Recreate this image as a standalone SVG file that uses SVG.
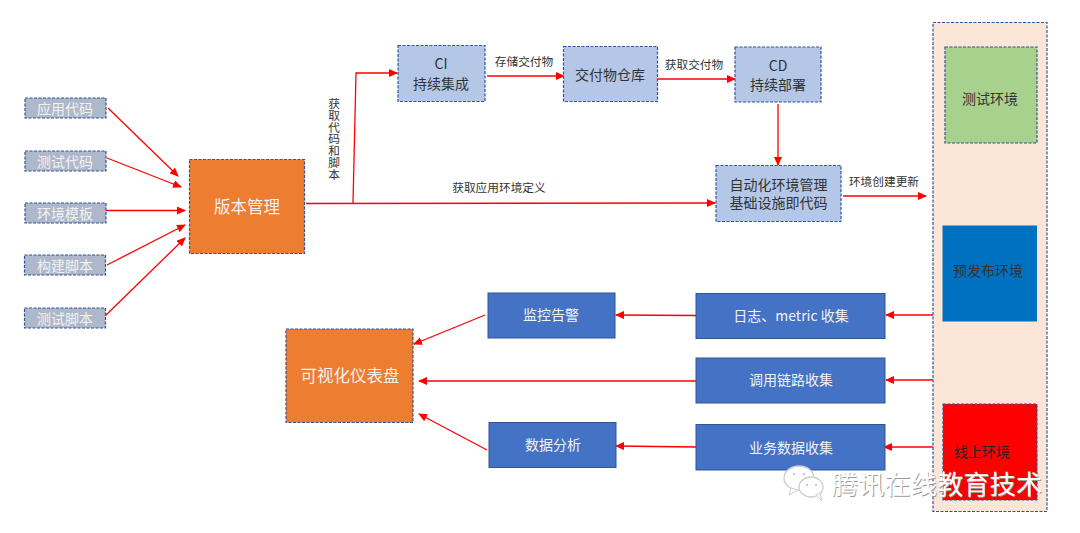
<svg xmlns="http://www.w3.org/2000/svg" width="1080" height="533" viewBox="0 0 1080 533">
<style>
text{font-family:"Noto Sans CJK SC","Liberation Sans",sans-serif;text-anchor:middle}
.d{stroke:#2f5597;stroke-width:1.2;stroke-dasharray:3 1.5}
.src{fill:#adb9ca}
.blue{fill:#b4c7e7}
.org{fill:#ed7d31}
.solid{fill:#4472c4;stroke:#2f5597;stroke-width:1}
.w{fill:#f2f2f2}
.k{fill:#333}
.c{fill:none;stroke:#ff0000;stroke-width:1.3}
.t12{font-size:11.7px}
.t14{font-size:14px}
.t16{font-size:16.5px}
.v{writing-mode:vertical-rl;text-orientation:upright}
</style>
<defs>
<marker id="a" markerUnits="userSpaceOnUse" markerWidth="9" markerHeight="8" refX="8" refY="4" orient="auto"><path d="M0 0L9 4L0 8Z" fill="#ff0000"/></marker>
</defs>
<rect width="1080" height="533" fill="#ffffff"/>
<g id="connectors">
<path class="c" marker-end="url(#a)" d="M108 108L178 176"/>
<path class="c" marker-end="url(#a)" d="M107 158L181 187"/>
<path class="c" marker-end="url(#a)" d="M106 210.500L185 210.500"/>
<path class="c" marker-end="url(#a)" d="M107 265L185 225"/>
<path class="c" marker-end="url(#a)" d="M105 316L185 238"/>
<path class="c" marker-end="url(#a)" d="M306 203.500L715 203"/>
<path class="c" marker-end="url(#a)" d="M353 203L356 73L397 73"/>
<path class="c" marker-end="url(#a)" d="M487 76L564 76"/>
<path class="c" marker-end="url(#a)" d="M657 79L735 79"/>
<path class="c" marker-end="url(#a)" d="M778 104L778 165"/>
<path class="c" marker-end="url(#a)" d="M843 196L926 196"/>
<path class="c" marker-end="url(#a)" d="M933 315L886 315"/>
<path class="c" marker-end="url(#a)" d="M933 380L886 380"/>
<path class="c" marker-end="url(#a)" d="M933 447L884 447"/>
<path class="c" marker-end="url(#a)" d="M696 315.500L616 315"/>
<path class="c" marker-end="url(#a)" d="M696 381L419 381"/>
<path class="c" marker-end="url(#a)" d="M696 447L616 446"/>
<path class="c" marker-end="url(#a)" d="M485 315L414 344"/>
<path class="c" marker-end="url(#a)" d="M487 450L419 414"/>
</g>
<g id="n-app"><rect class="src d" x="25" y="98" width="81" height="20"/><text class="w t14" x="65" y="114">应用代码</text></g>
<g id="n-test"><rect class="src d" x="25" y="151" width="81" height="20"/><text class="w t14" x="65" y="167">测试代码</text></g>
<g id="n-env"><rect class="src d" x="25" y="203" width="81" height="20"/><text class="w t14" x="65" y="219">环境模板</text></g>
<g id="n-build"><rect class="src d" x="24.500" y="255" width="81" height="20"/><text class="w t14" x="65" y="271">构建脚本</text></g>
<g id="n-tests"><rect class="src d" x="24.500" y="308" width="81" height="20"/><text class="w t14" x="65" y="324">测试脚本</text></g>
<g id="n-vcs"><rect class="org d" x="189.500" y="159.500" width="115" height="94"/><text class="w t16" x="247" y="213">版本管理</text></g>
<g id="n-ci"><rect class="blue d" x="398" y="45.500" width="87" height="56"/><text class="k t14" x="441" y="69">CI</text><text class="k t14" x="441" y="89">持续集成</text></g>
<g id="n-repo"><rect class="blue d" x="563.500" y="46.500" width="94" height="55"/><text class="k t14" x="610" y="80">交付物仓库</text></g>
<g id="n-cd"><rect class="blue d" x="735" y="47" width="86" height="55"/><text class="k t14" x="778" y="71">CD</text><text class="k t14" x="778" y="90">持续部署</text></g>
<g id="n-auto"><rect class="blue d" x="716" y="165.500" width="125" height="56"/><text class="k t14" x="778.500" y="190">自动化环境管理</text><text class="k t14" x="778.500" y="208">基础设施即代码</text></g>
<g id="n-envs"><rect x="933" y="22.500" width="114" height="489" fill="#fbe5d6" class="d"/></g>
<g id="n-testenv"><rect x="945" y="47" width="92" height="96" fill="#a9d18e" class="d"/><text class="k t14" x="990" y="104">测试环境</text></g>
<g id="n-pre"><rect x="942.500" y="225.500" width="94.500" height="96" fill="#0070c0"/><text class="k t14" x="988" y="276">预发布环境</text></g>
<g id="n-prod"><rect x="943" y="404" width="94" height="96" fill="#ff0000" class="d"/><text x="982" y="457" class="t14" fill="#222">线上环境</text></g>
<g id="n-log"><rect class="solid" x="696" y="293.500" width="189" height="45"/><text class="w t14" x="791" y="321">日志、metric 收集</text></g>
<g id="n-trace"><rect class="solid" x="696" y="358" width="189" height="45"/><text class="w t14" x="791" y="385">调用链路收集</text></g>
<g id="n-biz"><rect class="solid" x="696" y="424.500" width="189" height="45.500"/><text class="w t14" x="791" y="453">业务数据收集</text></g>
<g id="n-alert"><rect class="solid" x="488" y="293" width="127" height="45"/><text class="w t14" x="551" y="320">监控告警</text></g>
<g id="n-data"><rect class="solid" x="489" y="422.500" width="127" height="45"/><text class="w t14" x="553" y="450">数据分析</text></g>
<g id="n-dash"><rect class="org d" x="286" y="329" width="127" height="93.500"/><text class="w t16" x="350" y="382">可视化仪表盘</text></g>
<g id="labels">
<text class="k t12" x="524" y="66">存储交付物</text>
<text class="k t12" x="694" y="69">获取交付物</text>
<text class="k t12" x="499" y="192">获取应用环境定义</text>
<text class="k t12" x="884" y="186">环境创建更新</text>
<text class="k t12 v" x="334" y="139">获取代码和脚本</text>
</g>
<g id="watermark">
<ellipse cx="799" cy="478" rx="15" ry="12" fill="#fff" stroke="#ccc" stroke-width="1.300"/>
<path d="M791 488L789 495L798 490Z" fill="#fff" stroke="#ccc"/>
<ellipse cx="811" cy="487" rx="12" ry="10" fill="#fff" stroke="#ccc" stroke-width="1.300"/>
<path d="M816 495L822 501L820 493Z" fill="#fff" stroke="#ccc"/>
<circle cx="794" cy="474" r="1.300" fill="#ccc"/><circle cx="804" cy="474" r="1.300" fill="#ccc"/>
<circle cx="807" cy="485" r="1.200" fill="#ccc"/><circle cx="816" cy="485" r="1.200" fill="#ccc"/>
<text x="937" y="494" font-size="26.300" fill="#999" transform="translate(.8 .8)">腾讯在线教育技术</text>
<text x="937" y="494" font-size="26.300" fill="#ffffff">腾讯在线教育技术</text>
</g>
</svg>
